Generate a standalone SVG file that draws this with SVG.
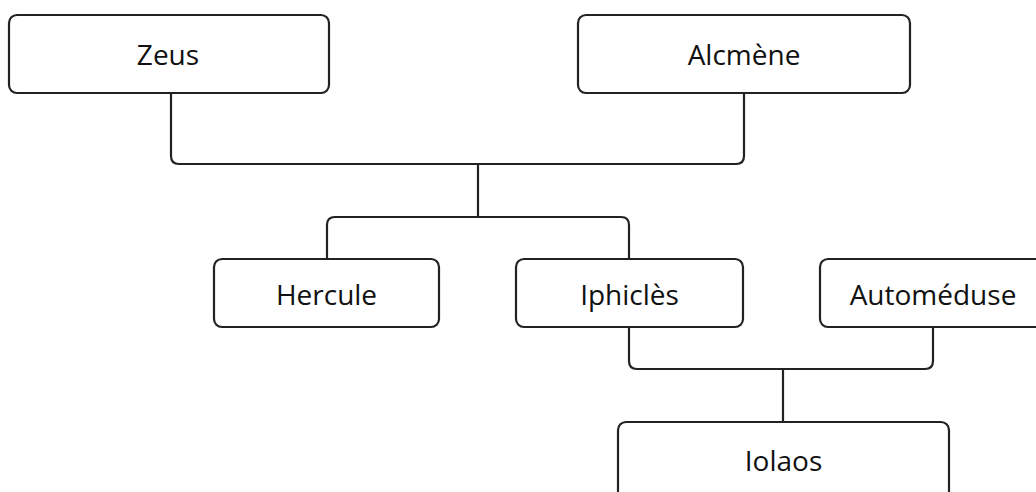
<svg xmlns="http://www.w3.org/2000/svg" width="1036" height="492" viewBox="0 0 1036 492">
<style>
.box{fill:#fff;stroke:#222;stroke-width:2.2}
.lbl{font-family:"Open Sans","Liberation Sans",sans-serif;font-size:28px;fill:#111;text-anchor:middle}
.con{fill:none;stroke:#222;stroke-width:2.2}
</style>
<rect width="1036" height="492" fill="#fff"/>
<g id="connectors">
<path class="con" d="M171 93 V156 Q171 164 179 164 H736 Q744 164 744 156 V93"/>
<path class="con" d="M478 164 V217"/>
<path class="con" d="M327 259 V225 Q327 217 335 217 H621 Q629 217 629 225 V259"/>
<path class="con" d="M629 327 V361 Q629 369 637 369 H925 Q933 369 933 361 V327"/>
<path class="con" d="M783 369 V422"/>
</g>
<g id="zeus"><rect class="box" x="9" y="15" width="320" height="78" rx="8"/><text class="lbl" x="168" y="65">Zeus</text></g>
<g id="alcmene"><rect class="box" x="578" y="15" width="332" height="78" rx="8"/><text class="lbl" x="744" y="65">Alcmène</text></g>
<g id="hercule"><rect class="box" x="214" y="259" width="225" height="68" rx="8"/><text class="lbl" x="326.5" y="305">Hercule</text></g>
<g id="iphicles"><rect class="box" x="516" y="259" width="227" height="68" rx="8"/><text class="lbl" x="629.5" y="305">Iphiclès</text></g>
<g id="automeduse"><rect class="box" x="820" y="259" width="226" height="68" rx="8"/><text class="lbl" x="933" y="305">Automéduse</text></g>
<g id="iolaos"><rect class="box" x="618" y="422" width="331" height="78" rx="8"/><text class="lbl" x="783.5" y="471">Iolaos</text></g>
</svg>
